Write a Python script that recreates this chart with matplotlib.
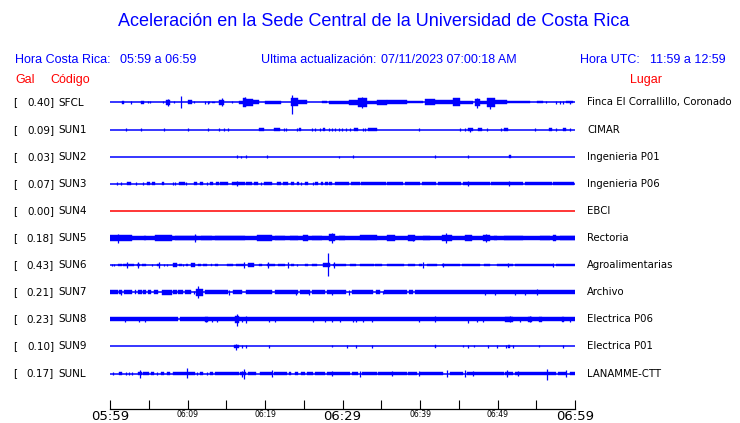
import matplotlib
matplotlib.use("Agg")
import matplotlib.pyplot as plt

W, H = 740, 423
LANE_PX = 27.1          # vertical spacing between traces, in pixels

STATIONS = ["SFCL", "SUN1", "SUN2", "SUN3", "SUN4", "SUN5",
            "SUN6", "SUN7", "SUN8", "SUN9", "SUNL"]
PGA_GAL = [0.40, 0.09, 0.03, 0.07, 0.00, 0.18, 0.43, 0.21, 0.23, 0.10, 0.17]
PLACES = ["Finca El Corrallillo, Coronado", "CIMAR", "Ingenieria P01",
          "Ingenieria P06", "EBCI", "Rectoria", "Agroalimentarias", "Archivo",
          "Electrica P06", "Electrica P01", "LANAMME-CTT"]

TICK_MIN = [0, 5, 10, 15, 20, 25, 30, 35, 40, 45, 50, 55, 60]
TICK_LABELS = ["05:59", "", "06:09", "", "06:19", "", "06:29", "",
               "06:39", "", "06:49", "", "06:59"]

# bursts: (start min, end min, half amplitude px)
# spikes: (minute, up px, down px)
SFCL_BURSTS = [(1.6, 1.8, 1.3), (4.0, 4.35, 1.3), (7.2, 7.75, 2.3), (10.1, 10.6, 2.0),
               (13.2, 13.6, 0.7), (14.0, 14.7, 2.5), (16.7, 17.2, 1.7), (17.2, 17.6, 4.5),
               (17.6, 18.5, 3.3), (18.5, 19.2, 2.0), (20.0, 22.0, 1.3), (23.4, 24.2, 4.0),
               (24.2, 25.4, 2.0), (27.3, 28.0, 1.0), (28.3, 30.8, 1.3), (30.8, 32.0, 2.7),
               (32.0, 33.1, 4.5), (33.1, 34.4, 1.3), (34.4, 35.7, 2.7), (35.7, 38.3, 2.0),
               (38.3, 40.4, 1.0), (40.6, 41.9, 3.0), (41.9, 44.3, 2.0), (44.3, 45.2, 4.0),
               (45.2, 46.9, 1.3), (47.1, 47.7, 3.8), (47.7, 48.6, 1.7), (48.6, 49.7, 4.5),
               (49.7, 51.2, 2.0), (51.2, 54.2, 1.0), (55.1, 55.9, 1.0), (58.9, 59.8, 1.0)]
SFCL_SPIKES = [(2.7, 1.3, 1.3), (4.95, 1, 1), (5.16, 1, 1), (6.9, 1, 1), (7.5, 3.3, 4),
               (8.3, 1, 1), (9.16, 6, 5.3), (10.9, 1, 1), (12.3, 1.3, 1.3), (12.6, 1.3, 1.3),
               (12.8, 1, 1), (14.5, 4, 3.7), (15.8, 1, 1), (17.4, 5, 3.3), (23.5, 7.3, 11.7),
               (32.5, 5, 5.7), (47.4, 4, 5.3), (49.0, 4.7, 6.7), (56.3, 1, 1), (57.6, 1.3, 1.3),
               (58.1, 1.3, 1.3), (58.5, 1.3, 1.3), (59.4, 1.3, 1.3)]

SUN1_BURSTS = [(19.2, 19.9, 1.3), (21.1, 22.0, 1.3), (24.4, 24.6, 1.7), (27.5, 27.8, 1.3),
               (31.5, 32.0, 1.3), (33.3, 34.4, 1.3), (46.2, 46.9, 1.3), (47.5, 48.0, 1.3),
               (50.8, 51.4, 1.3), (56.7, 57.0, 1.3), (58.4, 58.9, 1.3)]
SUN1_SPIKES = [(2.0, 1.7, 1.7), (3.96, 1.7, 1.7), (7.0, 1.7, 1.7), (10.0, 1.7, 1.7),
               (12.6, 1.7, 1.7), (14.0, 1.7, 1.7), (14.75, 1.7, 1.7), (15.2, 1.7, 1.7),
               (22.4, 1.3, 1.3), (22.7, 1.7, 1.7), (24.1, 1.7, 1.7), (26.0, 1.7, 1.7),
               (26.5, 1.7, 1.7), (27.1, 1.7, 1.7), (28.2, 1.7, 1.7), (28.6, 1.7, 1.7),
               (29.0, 1.7, 1.7), (29.5, 1.7, 1.7), (29.9, 1.7, 1.7), (30.5, 1.7, 1.7),
               (31.0, 1.7, 1.7), (32.6, 1.7, 1.7), (32.9, 1.7, 1.7), (39.9, 1.7, 1.7),
               (45.1, 1.7, 1.7), (45.8, 1.3, 1.3), (46.5, 2.0, 2.0), (48.6, 1.7, 1.7),
               (50.4, 1.7, 1.7), (54.8, 1.7, 1.7), (57.6, 1.7, 1.7), (59.4, 1.7, 1.7)]

SUN2_BURSTS = [(51.5, 51.7, 1.3)]
SUN2_SPIKES = [(16.4, 1.7, 1.7), (16.9, 1, 1), (17.6, 1.7, 1.7), (20.3, 1.3, 1.3),
               (29.6, 1, 1), (31.3, 1.3, 1.3), (41.9, 1.3, 1.3), (46.2, 1.3, 1.3)]

SUN3_BURSTS = [(2.15, 2.71, 1.3), (4.73, 5.16, 1.3), (5.46, 5.8, 1.3), (6.75, 7.0, 1.3),
               (8.9, 9.68, 1.5), (10.9, 11.2, 1.3), (11.6, 12.0, 1.3), (12.9, 13.3, 1.3),
               (13.7, 14.0, 1.3), (14.2, 15.2, 1.5), (15.7, 17.4, 1.5), (17.6, 18.3, 1.3),
               (18.6, 19.05, 1.3), (19.9, 20.9, 1.5), (21.5, 22.1, 1.3), (22.3, 23.0, 1.3),
               (23.4, 23.7, 1.3), (24.1, 24.4, 1.3), (25.2, 25.6, 1.3), (26.5, 26.9, 1.3),
               (27.2, 27.5, 1.3), (27.7, 28.1, 1.3), (28.3, 28.7, 1.3), (29.0, 30.9, 1.3),
               (31.1, 32.2, 1.3), (32.4, 35.6, 1.3), (35.8, 37.8, 1.3), (38.0, 40.0, 1.3),
               (40.2, 42.1, 1.3), (42.3, 45.3, 1.3), (45.5, 49.0, 1.3), (49.2, 53.3, 1.3),
               (53.5, 57.0, 1.3), (57.2, 59.9, 1.3)]
SUN3_SPIKES = [(0.95, 1.3, 1.3), (1.42, 1.3, 1.3), (3.35, 1.3, 1.3), (4.3, 1.3, 1.3),
               (8.17, 1.3, 1.3), (8.4, 1.3, 1.3), (9.85, 1.3, 1.3), (12.5, 1.3, 1.3),
               (16.4, 2.3, 2.3), (19.5, 1.3, 1.3), (24.7, 1.3, 1.3), (26.2, 1.3, 1.3),
               (46.2, 2.3, 2.3), (51.5, 2.3, 2.3)]

SUN4_BURSTS = []
SUN4_SPIKES = []

SUN5_BURSTS = [(0.0, 60.0, 1.8), (0.0, 2.8, 3.0), (4.4, 4.7, 2.3), (5.8, 7.96, 2.7),
               (8.4, 11.2, 2.3), (11.8, 13.1, 2.3), (13.6, 17.4, 2.0), (19.0, 20.9, 3.0),
               (21.3, 22.6, 2.0), (23.2, 24.3, 2.0), (24.9, 25.6, 2.7), (26.0, 27.3, 1.7),
               (28.2, 29.0, 3.5), (29.5, 30.3, 2.3), (32.3, 34.4, 2.5), (35.7, 36.8, 2.7),
               (38.5, 39.4, 2.7), (40.4, 41.3, 2.0), (42.8, 44.1, 3.3), (45.8, 46.7, 3.0),
               (48.1, 49.0, 3.3), (49.5, 49.9, 1.7), (50.8, 53.3, 2.0), (55.5, 56.8, 2.0),
               (57.2, 57.6, 3.0), (58.1, 60.0, 2.0)]
SUN5_SPIKES = [(1.0, 4.3, 5.3), (11.0, 4, 4), (28.7, 4.7, 5), (39.1, 3, 3),
               (43.4, 5.3, 4.7), (48.5, 4.3, 4.3)]

SUN6_BURSTS = [(1.07, 1.5, 1.3), (1.72, 3.14, 1.3), (3.44, 3.87, 1.3), (4.17, 4.6, 1.3),
               (6.0, 6.45, 1.3), (8.17, 8.6, 2.0), (8.9, 9.25, 1.3), (9.76, 10.0, 1.3),
               (10.45, 10.97, 2.0), (11.4, 11.8, 1.3), (12.0, 12.5, 1.3), (13.0, 13.2, 1.3),
               (13.55, 14.0, 1.3), (15.05, 15.9, 1.3), (16.3, 17.4, 1.3), (17.8, 18.6, 2.0),
               (19.2, 19.6, 1.3), (20.2, 21.3, 1.3), (21.7, 22.6, 1.3), (23.3, 23.7, 1.3),
               (25.2, 25.6, 1.3), (26.0, 26.7, 1.3), (27.5, 28.4, 2.0), (28.8, 30.5, 1.3),
               (31.0, 31.8, 1.3), (32.3, 34.0, 1.3), (34.2, 35.1, 1.3), (35.7, 37.9, 1.3),
               (38.5, 39.4, 1.3), (39.9, 40.2, 1.3), (40.9, 42.2, 1.3), (42.8, 45.2, 1.3),
               (45.4, 47.7, 1.3), (48.2, 49.0, 1.3), (49.9, 52.0, 1.3), (52.3, 57.2, 1.3),
               (57.6, 60.0, 1.3)]
SUN6_SPIKES = [(0.2, 1.3, 1.3), (0.56, 1.3, 1.3), (2.24, 3.3, 3.3), (3.66, 2.7, 2.7),
               (5.38, 1.3, 1.3), (6.32, 3.3, 3.3), (7.0, 1.3, 1.3), (7.3, 1.3, 1.3),
               (9.46, 1.3, 1.3), (17.3, 3.3, 3.3), (20.4, 2.7, 2.7), (23.0, 3.3, 3.3),
               (24.1, 1.3, 1.3), (28.17, 12.0, 11.3), (28.95, 3.3, 3.3), (40.4, 2.7, 3.3),
               (43.0, 2.0, 2.0), (51.4, 2.0, 2.0), (57.2, 2.0, 2.0)]

SUN7_BURSTS = [(0.0, 1.07, 2.0), (1.16, 1.5, 2.0), (1.85, 2.8, 2.0), (3.2, 3.4, 2.0),
               (3.65, 4.1, 2.0), (4.3, 4.7, 2.0), (4.95, 5.3, 2.0), (5.7, 6.2, 2.0),
               (6.75, 7.96, 2.3), (8.17, 8.6, 2.0), (8.8, 9.46, 2.0), (9.68, 10.5, 2.0),
               (11.05, 12.0, 3.3), (12.26, 15.27, 2.0), (15.9, 17.0, 2.0), (17.6, 20.9, 2.0),
               (21.3, 24.3, 2.0), (24.5, 25.8, 2.0), (26.0, 27.7, 2.0), (27.96, 30.5, 2.0),
               (31.2, 34.0, 2.0), (34.3, 34.8, 2.0), (35.3, 38.3, 2.0), (38.6, 39.1, 2.0),
               (39.4, 60.0, 2.1)]
SUN7_SPIKES = [(1.38, 2.7, 2.7), (10.9, 1.5, 1.5), (11.4, 6.3, 6.0), (15.3, 2.3, 2.3),
               (23.96, 2.3, 2.3), (25.7, 2.3, 2.3), (28.7, 2.3, 2.3), (30.9, 2.7, 2.7),
               (35.2, 1.7, 1.7), (48.4, 2.5, 2.5), (49.7, 2.5, 2.5), (52.3, 2.5, 2.5),
               (53.5, 2.5, 2.5), (55.1, 3.3, 3.0)]

SUN8_BURSTS = [(0.0, 8.8, 2.2), (9.0, 60.0, 2.0), (12.3, 12.6, 2.5), (16.1, 16.6, 3.3),
               (51.0, 52.0, 2.7), (53.9, 54.4, 2.5), (55.3, 55.7, 2.7), (58.3, 58.6, 2.7)]
SUN8_SPIKES = [(1.94, 2.5, 2.5), (3.79, 2.7, 2.7), (4.5, 2.5, 2.5), (12.4, 2.7, 2.7),
               (13.1, 2.5, 2.5), (13.8, 2.7, 2.7), (16.43, 5.3, 6.3), (17.0, 2.7, 2.7),
               (17.6, 3.3, 3.3), (20.56, 2.7, 2.7), (21.3, 2.5, 2.5), (26.2, 2.5, 2.5),
               (27.7, 2.7, 2.7), (28.6, 2.5, 2.5), (29.7, 2.7, 2.7), (31.4, 2.7, 2.7),
               (31.7, 2.7, 2.7), (32.7, 2.7, 2.7), (33.8, 2.5, 2.5), (39.9, 2.5, 2.5),
               (41.9, 3.0, 3.0), (46.2, 2.7, 3.5), (47.3, 2.7, 2.7), (48.1, 2.7, 2.7),
               (51.6, 3.0, 3.0), (52.9, 2.7, 2.7), (54.2, 3.0, 3.0), (59.4, 2.7, 2.7)]

SUN9_BURSTS = [(16.0, 16.6, 1.7), (41.9, 42.1, 1.7), (51.4, 51.6, 1.7)]
SUN9_SPIKES = [(16.3, 2.7, 3.3), (17.07, 1.7, 1.7), (17.6, 1.7, 1.7), (20.56, 1.7, 1.7),
               (28.6, 1, 1), (30.6, 1.3, 1.3), (31.8, 1.3, 1.3), (33.8, 1.3, 1.3),
               (45.6, 1, 1), (46.2, 1.3, 1.3), (47.0, 1, 1), (48.8, 1.3, 1.3),
               (49.9, 1.3, 1.3), (51.1, 1.3, 1.3), (52.0, 1.3, 1.3), (55.3, 1, 1),
               (58.4, 1.3, 1.3)]

SUNL_BURSTS = [(1.16, 1.5, 1.3), (3.65, 4.1, 1.5), (4.3, 5.0, 1.3), (5.25, 5.7, 1.3),
               (6.6, 7.0, 1.3), (7.3, 7.7, 1.3), (8.17, 11.0, 1.3), (11.6, 12.05, 1.3),
               (12.9, 13.3, 1.3), (13.5, 16.6, 1.5), (16.8, 17.6, 1.7), (17.85, 18.9, 1.3),
               (19.4, 20.9, 1.5), (21.1, 22.8, 1.5), (23.1, 23.4, 1.3), (23.9, 24.3, 1.3),
               (24.6, 25.2, 1.3), (25.4, 26.2, 1.3), (26.5, 27.7, 1.3), (27.96, 31.0, 1.5),
               (31.2, 32.0, 1.5), (32.5, 34.4, 1.5), (34.6, 38.3, 1.5), (38.5, 39.6, 1.5),
               (40.0, 43.0, 1.5), (43.9, 45.6, 1.5), (46.0, 50.8, 1.7), (51.0, 52.0, 1.5),
               (52.3, 56.1, 1.7), (56.1, 57.6, 1.5), (57.85, 58.9, 1.7), (59.4, 60.0, 1.5)]
SUNL_SPIKES = [(0.43, 1, 1), (2.0, 1.3, 1.3), (2.45, 1.3, 1.3), (2.8, 1.3, 1.3),
               (3.9, 4, 4.7), (6.1, 1.3, 1.3), (9.98, 5.3, 4.7), (11.2, 1.3, 1.3),
               (12.5, 1.3, 1.3), (17.0, 3, 3), (17.25, 5, 5.7), (20.95, 3.3, 3.3),
               (28.6, 2.3, 2.3), (32.3, 3, 3), (36.4, 2.7, 2.7), (39.9, 2.7, 2.7),
               (43.5, 3.7, 3.3), (45.8, 3.3, 3.3), (46.9, 2.3, 2.3), (51.2, 3.3, 3.3),
               (52.6, 2.3, 2.3), (56.4, 5, 6), (58.9, 3.3, 3.3)]

BURSTS = [SFCL_BURSTS, SUN1_BURSTS, SUN2_BURSTS, SUN3_BURSTS, SUN4_BURSTS, SUN5_BURSTS,
          SUN6_BURSTS, SUN7_BURSTS, SUN8_BURSTS, SUN9_BURSTS, SUNL_BURSTS]
SPIKES = [SFCL_SPIKES, SUN1_SPIKES, SUN2_SPIKES, SUN3_SPIKES, SUN4_SPIKES, SUN5_SPIKES,
          SUN6_SPIKES, SUN7_SPIKES, SUN8_SPIKES, SUN9_SPIKES, SUNL_SPIKES]

BLUE = "#0000ff"
RED = "#ff0000"
HEAD_FONT = "Liberation Sans"
HEAD_SIZE = 9


def fx(px):
    return px / W


def fy(py):
    return 1 - py / H


def head(px, py, s, color=BLUE):
    fig.text(fx(px), fy(py), s, ha="left", va="center", fontsize=HEAD_SIZE,
             color=color, family=HEAD_FONT)


fig = plt.figure(figsize=(W / 100, H / 100), dpi=100)
fig.patch.set_facecolor("white")

# ── header ────────────────────────────────────────────────────────────────
fig.text(fx(374), fy(21), "Aceleración en la Sede Central de la Universidad de Costa Rica",
         ha="center", va="center", fontsize=13, color=BLUE, family=HEAD_FONT)
head(15, 60, "Hora Costa Rica:")
head(120, 60, "05:59 a 06:59")
head(261, 60, "Ultima actualización:")
head(381, 60, "07/11/2023 07:00:18 AM")
head(580, 60, "Hora UTC:")
head(650, 60, "11:59 a 12:59")
head(15, 80, "Gal", RED)
head(50, 80, "Código", RED)
head(630, 80, "Lugar", RED)

# ── traces ────────────────────────────────────────────────────────────────
AX_TOP, AX_BOT = 88, 409
ROW0 = 102.5
ax = fig.add_axes([fx(110), fy(AX_BOT), (575 - 110) / W, (AX_BOT - AX_TOP) / H])
ax.set_xlim(0, 60)
top = -(ROW0 - AX_TOP) / LANE_PX
ax.set_ylim(top + (AX_BOT - AX_TOP) / LANE_PX, top)

for i, (code, gal, place) in enumerate(zip(STATIONS, PGA_GAL, PLACES)):
    color = RED if gal == 0 else BLUE
    ax.hlines(i, 0, 60, color=color, lw=1.1)
    if BURSTS[i]:
        starts = [b[0] for b in BURSTS[i]]
        widths = [b[1] - b[0] for b in BURSTS[i]]
        amps = [b[2] / LANE_PX for b in BURSTS[i]]
        ax.bar(starts, [2 * a for a in amps], width=widths,
               bottom=[i - a for a in amps], align="edge",
               color=color, edgecolor=color, lw=0.3)
    if SPIKES[i]:
        ax.vlines([s[0] for s in SPIKES[i]],
                  [i - s[1] / LANE_PX for s in SPIKES[i]],
                  [i + s[2] / LANE_PX for s in SPIKES[i]],
                  color=color, lw=0.9)

    ypix = ROW0 + i * LANE_PX
    fig.text(fx(13), fy(ypix), "[", ha="left", va="center", fontsize=7.5)
    fig.text(fx(54), fy(ypix), f"{gal:.2f}]", ha="right", va="center", fontsize=7.5)
    fig.text(fx(58), fy(ypix), code, ha="left", va="center", fontsize=7.5)
    fig.text(fx(587), fy(ypix), place, ha="left", va="center", fontsize=7.3)

# ── time axis ─────────────────────────────────────────────────────────────
for side in ("top", "left", "right"):
    ax.spines[side].set_visible(False)
ax.spines["bottom"].set_linewidth(0.9)
ax.set_yticks([])
ax.set_xticks(TICK_MIN)
ax.set_xticklabels(TICK_LABELS)
ax.tick_params(axis="x", direction="in", length=6.5, width=0.8, pad=1, color="black")
for m, lab in zip(TICK_MIN, ax.get_xticklabels()):
    lab.set_fontsize(9.5 if m % 30 == 0 else 5.5)

fig.savefig("out.png", dpi=100)
